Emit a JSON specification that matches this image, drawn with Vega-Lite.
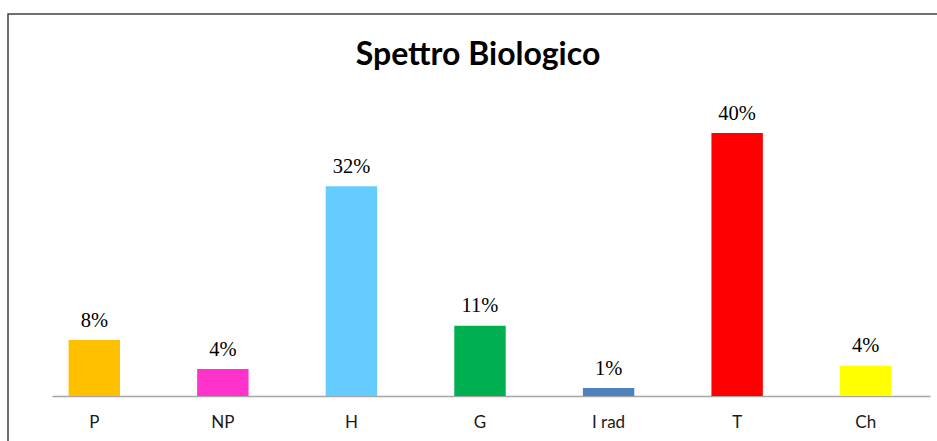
{
  "$schema": "https://vega.github.io/schema/vega-lite/v6.json",
  "width": 940,
  "height": 440,
  "autosize": "none",
  "padding": {"left": 8, "top": 14, "right": 0, "bottom": 0},
  "background": "white",
  "config": {"view": {"stroke": "#404040", "strokeWidth": 1.5}},
  "title": {
    "text": "Spettro Biologico",
    "font": "Lato",
    "fontSize": 32,
    "fontWeight": "bold",
    "color": "#000000",
    "anchor": "middle",
    "frame": "group",
    "baseline": "alphabetic",
    "offset": -83
  },
  "data": {
    "values": [
      {"cat": "P", "val": 8.5, "label": "8%"},
      {"cat": "NP", "val": 4.1, "label": "4%"},
      {"cat": "H", "val": 31.9, "label": "32%"},
      {"cat": "G", "val": 10.7, "label": "11%"},
      {"cat": "I rad", "val": 1.2, "label": "1%"},
      {"cat": "T", "val": 40, "label": "40%"},
      {"cat": "Ch", "val": 4.6, "label": "4%"}
    ]
  },
  "encoding": {
    "x": {
      "field": "cat",
      "type": "nominal",
      "sort": null,
      "scale": {"range": [22, 922], "paddingInner": 0.6, "paddingOuter": 0.3},
      "axis": {
        "orient": "bottom",
        "offset": -58,
        "title": null,
        "labelAngle": 0,
        "ticks": false,
        "tickSize": 0,
        "labelPadding": 18,
        "labelFont": "Lato",
        "labelFontSize": 17,
        "labelColor": "#1a1a1a",
        "domainColor": "#A6A6A6",
        "domainWidth": 1.5,
        "domainDash": [0, 22, 900, 200],
        "domainCap": "butt",
        "grid": false
      }
    },
    "y": {
      "field": "val",
      "type": "quantitative",
      "scale": {"domain": [0, 40], "range": [382, 119], "nice": false, "zero": true},
      "axis": null
    }
  },
  "layer": [
    {
      "mark": {"type": "bar"},
      "encoding": {
        "color": {
          "field": "cat",
          "type": "nominal",
          "scale": {
            "domain": ["P", "NP", "H", "G", "I rad", "T", "Ch"],
            "range": ["#FFC000", "#FF33CC", "#66CCFF", "#00B050", "#4F81BD", "#FF0000", "#FFFF00"]
          },
          "legend": null
        }
      }
    },
    {
      "mark": {
        "type": "text",
        "font": "Liberation Serif",
        "fontSize": 20.5,
        "baseline": "alphabetic",
        "dy": -13.5,
        "color": "#000000"
      },
      "encoding": {"text": {"field": "label"}}
    }
  ]
}
